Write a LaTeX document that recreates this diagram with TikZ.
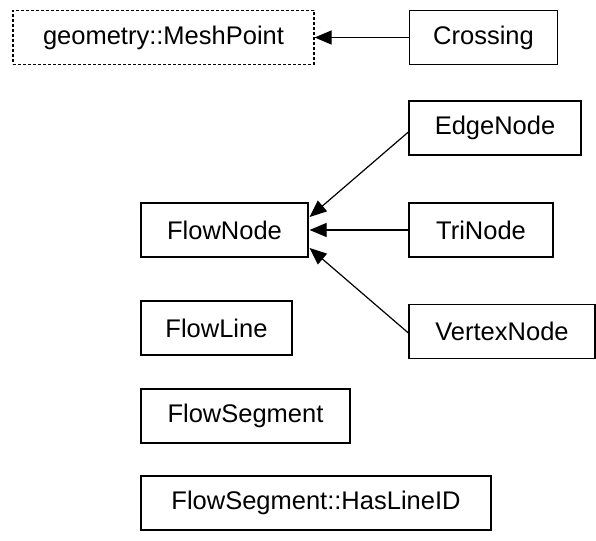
\documentclass[tikz,border=0pt]{standalone}
\usepackage{fontspec}
\setmainfont{Liberation Sans}
\usepackage{tikz}
\usetikzlibrary{arrows.meta}
\tikzset{
  cls/.style={draw=black,line width=1.2pt,font=\fontsize{25.5}{30}\selectfont,
              minimum height=54pt,inner sep=0pt},
  ext/.style={cls,dash pattern=on 3pt off 2pt},
  inh/.style={{Triangle[length=17pt,width=14pt]}-,line width=1.2pt,black},
}
\begin{document}
\begin{tikzpicture}[x=1pt,y=-1pt]
  \useasboundingbox (0,0) rectangle (596,540);
  \node[ext,minimum width=301pt] (meshpoint) at (163.5,37.5) {geometry::MeshPoint};
  \node[cls,minimum width=148pt] (crossing) at (483.5,37.5) {Crossing};
  \node[cls,minimum width=172pt] (edgenode) at (495,128) {EdgeNode};
  \node[cls,minimum width=167pt] (flownode) at (224.5,230) {FlowNode};
  \node[cls,minimum width=144pt] (trinode) at (481,230) {TriNode};
  \node[cls,minimum width=151pt] (flowline) at (216.5,328) {FlowLine};
  \node[cls,minimum width=186pt] (vertexnode) at (502,331.5) {VertexNode};
  \node[cls,minimum width=209pt] (flowsegment) at (245.5,416) {FlowSegment};
  \node[cls,minimum width=350pt] (haslineid) at (316,503) {FlowSegment::HasLineID};
  % inheritance arrows
  \draw[inh] (meshpoint.east) -- (crossing.west);
  \draw[inh] ([xshift=1pt,yshift=13pt]flownode.east) -- ([yshift=-4pt]edgenode.west);
  \draw[inh] ([xshift=1pt]flownode.east) -- (trinode.west);
  \draw[inh] ([xshift=1pt,yshift=-18pt]flownode.east) -- ([yshift=-1.5pt]vertexnode.west);
\end{tikzpicture}
\end{document}
